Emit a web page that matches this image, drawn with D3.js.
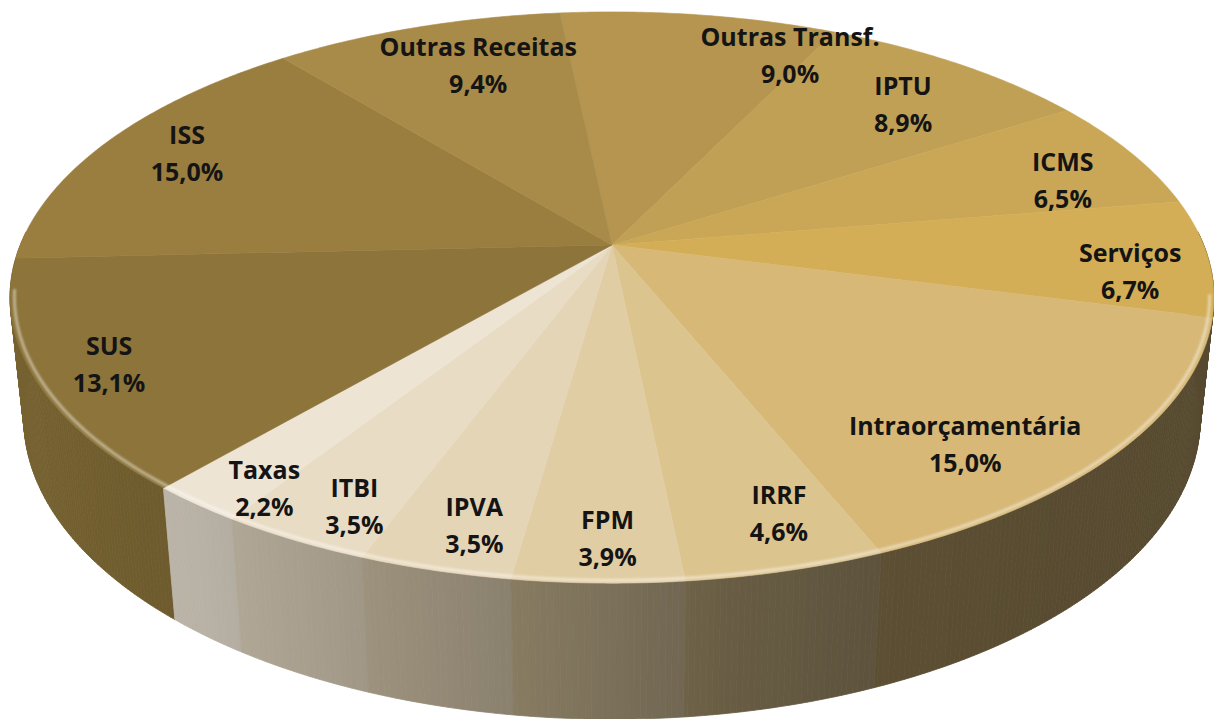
<!DOCTYPE html>
<head>
  <meta charset="utf-8" />
  <script src="https://d3js.org/d3.v7.min.js"></script>
  <style>
    body { margin: 0; background: #fff; }
    .lbl text {
      font-family: "Open Sans", sans-serif;
      font-weight: 700;
      font-size: 25px;
      fill: #141414;
    }
  </style>
</head>
<body>
<script>
  // slices, clockwise from the back of the pie
  var categories = ["Outras Transf.", "IPTU", "ICMS", "Serviços", "Intraorçamentária", "IRRF",
                    "FPM", "IPVA", "ITBI", "Taxas", "SUS", "ISS", "Outras Receitas"];
  var values = [9.0, 8.9, 6.5, 6.7, 15.0, 4.6, 3.9, 3.5, 3.5, 2.2, 13.1, 15.0, 9.4];
  var pctLabels = ["9,0%", "8,9%", "6,5%", "6,7%", "15,0%", "4,6%",
                   "3,9%", "3,5%", "3,5%", "2,2%", "13,1%", "15,0%", "9,4%"];
  var colors = ["#b5954f", "#bfa055", "#caa756", "#d4ae56", "#d7b877", "#dcc48f",
                "#e1cda3", "#e5d5b7", "#e9dcc5", "#ede4d4", "#8c743a", "#9a7e40", "#a88b49"];

  var width = 1214, height = 719;
  var rad = Math.PI / 180;

  var svg = d3.select("body").append("svg")
    .attr("width", width)
    .attr("height", height);

  var defs = svg.append("defs");
  defs.append("filter").attr("id", "soft")
    .append("feGaussianBlur").attr("stdDeviation", 1.2);

  // simple perspective camera looking down at the disc
  var cx = 612, cy = 245, k = 2846, D = 4.81, tilt = 27.8 * rad, thick = 0.2326;
  function project(r, a, w) {
    var u = r * Math.sin(a), v = r * Math.cos(a);
    var dz = D + v * Math.cos(tilt) - w * Math.sin(tilt);
    var up = v * Math.sin(tilt) + w * Math.cos(tilt);
    return [cx + k * u / dz, cy - k * up / dz];
  }

  var start = -6 * rad;
  var pie = d3.pie().sort(null).value(function (d) { return d; })
    .startAngle(start).endAngle(start + 2 * Math.PI);
  var arcs = pie(values);

  // side shading depends on the direction the wall faces
  var shade = d3.scaleLinear()
    .domain([90, 140, 160, 170, 182, 195, 206, 217, 240, 270])
    .range([0.40, 0.41, 0.43, 0.47, 0.56, 0.65, 0.72, 0.78, 0.83, 0.87])
    .clamp(true);

  function deg(a) { var d = a / rad % 360; return d < 0 ? d + 360 : d; }
  function darken(c, f) {
    var r = d3.rgb(c);
    return d3.rgb(r.r * f, r.g * f, r.b * f).formatHex();
  }

  var line = d3.line();

  // side wall, far quads first
  var quads = [];
  var step = 0.5 * rad;
  arcs.forEach(function (d, i) {
    for (var a = d.startAngle; a < d.endAngle - 1e-9; a += step) {
      var b = Math.min(a + step, d.endAngle);
      var m = (a + b) / 2;
      if (Math.cos(m) > 0.05) continue;
      quads.push({
        pts: [project(1, a, 0), project(1, b, 0), project(1, b, -thick), project(1, a, -thick)],
        color: darken(colors[i], shade(deg(m))),
        z: Math.cos(m)
      });
    }
  });
  quads.sort(function (p, q) { return q.z - p.z; });

  svg.append("g").selectAll("path")
    .data(quads)
    .join("path")
    .attr("d", function (q) { return line(q.pts) + "Z"; })
    .attr("fill", function (q) { return q.color; })
    .attr("stroke", function (q) { return q.color; })
    .attr("stroke-width", 0.8);

  // top face
  function slicePoints(d) {
    var pts = [project(0, 0, 0)];
    var n = Math.max(2, Math.ceil((d.endAngle - d.startAngle) / step));
    for (var j = 0; j <= n; j++) {
      pts.push(project(1, d.startAngle + (d.endAngle - d.startAngle) * j / n, 0));
    }
    return pts;
  }

  svg.append("g").selectAll("path")
    .data(arcs)
    .join("path")
    .attr("d", function (d) { return line(slicePoints(d)) + "Z"; })
    .attr("fill", function (d, i) { return colors[i]; })
    .attr("stroke", function (d, i) { return colors[i]; })
    .attr("stroke-width", 0.6);

  // light bevel along the front rim
  var rim = d3.range(100, 262, 1).map(function (t) { return project(0.993, t * rad, 0); });
  svg.append("path")
    .attr("d", line(rim))
    .attr("fill", "none")
    .attr("stroke", "#fff")
    .attr("stroke-opacity", 0.45)
    .attr("stroke-width", 3)
    .attr("filter", "url(#soft)");

  // label placement as Excel's "best fit" left it: [angle shift in degrees, radius]
  var labelFit = {
    "Outras Transf.": [13.6, 0.861], "IPTU": [2.1, 0.783], "ICMS": [3.6, 0.834],
    "Serviços": [3.3, 0.866], "Intraorçamentária": [9.1, 0.825], "IRRF": [-2.2, 0.858],
    "FPM": [-0.7, 0.886], "IPVA": [-1.3, 0.875], "ITBI": [-1.9, 0.885],
    "Taxas": [-3.1, 0.911], "SUS": [-0.9, 0.883], "ISS": [1.0, 0.844],
    "Outras Receitas": [3.6, 0.785]
  };
  var lbl = svg.append("g").attr("class", "lbl")
    .selectAll("g")
    .data(arcs)
    .join("g")
    .attr("transform", function (d, i) {
      var mid = (d.startAngle + d.endAngle) / 2;
      var f = labelFit[categories[i]] || [0, 0.85];
      var p = project(f[1], mid + f[0] * rad, 0);
      return "translate(" + p[0] + "," + p[1] + ")";
    });

  lbl.append("text")
    .attr("text-anchor", "middle")
    .attr("dominant-baseline", "central")
    .attr("y", -18.5)
    .text(function (d, i) { return categories[i]; });

  lbl.append("text")
    .attr("text-anchor", "middle")
    .attr("dominant-baseline", "central")
    .attr("y", 18.5)
    .text(function (d, i) { return pctLabels[i]; });
</script>
</body>
